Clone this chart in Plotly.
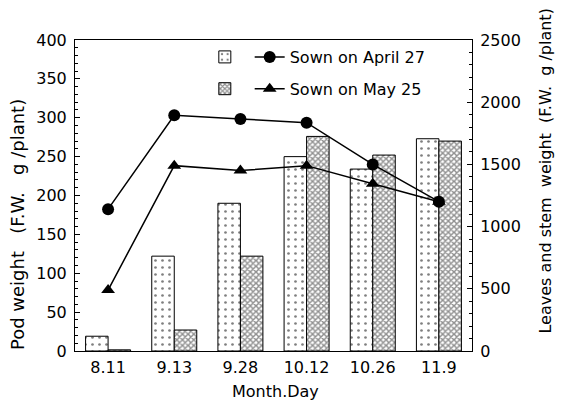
import plotly.graph_objects as go

categories = ["8.11", "9.13", "9.28", "10.12", "10.26", "11.9"]
pod_april = [19, 122, 190, 250, 234, 273]
pod_may = [1.5, 27, 122, 276, 252, 270]
leaf_april = [1140, 1895, 1865, 1835, 1500, 1200]
leaf_may = [490, 1490, 1450, 1490, 1345, 1200]

left_title = "Pod weight   (F.W.   g /plant)"
right_title = "Leaves and stem  weight  (F.W.  g /plant)"
x_title = "Month.Day"

FONT = "DejaVu Sans"

fig = go.Figure()
fig.add_trace(go.Bar(
    x=categories, y=pod_april, name=" ", legend="legend", legendgroup="a",
    marker=dict(color="white", line=dict(color="black", width=1),
                pattern=dict(shape=".", fgcolor="black", bgcolor="white", size=7, solidity=0.12)),
))
fig.add_trace(go.Bar(
    x=categories, y=pod_may, name=" ", legend="legend", legendgroup="b",
    marker=dict(color="white", line=dict(color="black", width=1),
                pattern=dict(shape="x", fgcolor="#222222", bgcolor="white", size=4, solidity=0.6)),
))
fig.add_trace(go.Scatter(
    x=categories, y=leaf_april, yaxis="y2", name="Sown on April 27", legend="legend2",
    legendgroup="a",
    mode="lines+markers", line=dict(color="black", width=1.5),
    marker=dict(symbol="circle", size=12, color="black"),
))
fig.add_trace(go.Scatter(
    x=categories, y=leaf_may, yaxis="y2", name="Sown on May 25", legend="legend2",
    legendgroup="b",
    mode="lines+markers", line=dict(color="black", width=1.5),
    marker=dict(symbol="triangle-up", size=12, color="black"),
))

fig.update_layout(
    width=568, height=403,
    margin=dict(l=75, r=96, t=40, b=52, autoexpand=False),
    paper_bgcolor="white", plot_bgcolor="white",
    font=dict(family=FONT, size=16, color="black"),
    barmode="group", bargap=0.32, bargroupgap=0,
    xaxis=dict(type="category", showline=True, linecolor="black", linewidth=1, mirror=True,
               ticks="", ticklabelstandoff=2, automargin=False,
               range=[-0.5, 5.5]),
    yaxis=dict(range=[0, 400], dtick=50, showline=True, linecolor="black", linewidth=1,
               ticks="inside", ticklen=5, tickcolor="black", showgrid=False, zeroline=False,
               ticklabelstandoff=4, automargin=False,
               minor=dict(ticks="inside", dtick=10, ticklen=3, tickcolor="black")),
    yaxis2=dict(range=[0, 2500], dtick=500, overlaying="y", side="right", showline=True,
                linecolor="black", linewidth=1, ticks="inside", ticklen=5, tickcolor="black",
                showgrid=False, zeroline=False, ticklabelstandoff=4, automargin=False,
                minor=dict(ticks="inside", dtick=100, ticklen=3, tickcolor="black")),
    legend=dict(x=0.327, y=1.0, xanchor="left", yanchor="top", bgcolor="rgba(0,0,0,0)",
                itemwidth=30, tracegroupgap=8, font=dict(size=16)),
    legend2=dict(x=0.44, y=1.0, xanchor="left", yanchor="top", bgcolor="rgba(0,0,0,0)",
                 tracegroupgap=8, font=dict(size=16)),
    showlegend=True,
    annotations=[
        dict(text=left_title, textangle=-90, xref="paper", yref="paper", x=0, y=0.405,
             xanchor="center", yanchor="middle", xshift=-58, showarrow=False,
             font=dict(size=18)),
        dict(text=right_title, textangle=-90, xref="paper", yref="paper", x=1, y=0.577,
             xanchor="center", yanchor="middle", xshift=74, showarrow=False,
             font=dict(size=16)),
        dict(text=x_title, xref="paper", yref="paper", x=0.504, y=0,
             xanchor="center", yanchor="middle", yshift=-40, showarrow=False,
             font=dict(size=16)),
    ],
)

fig.write_html("out.html")
